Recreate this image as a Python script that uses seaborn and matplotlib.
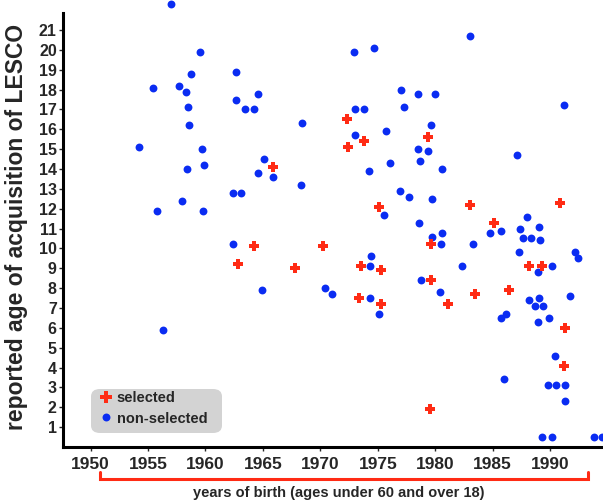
import numpy as np
import pandas as pd
import matplotlib
matplotlib.use("Agg")
import matplotlib.pyplot as plt
from matplotlib.lines import Line2D
from matplotlib.patches import FancyBboxPatch
import seaborn as sns

# values (year of birth, reported age of acquisition)
sel_year = [1965.9, 1972.3, 1973.8, 1972.4, 1979.4, 1975.1, 1983.0, 1985.1, 1990.9,
            1970.2, 1979.6, 1964.2, 1962.8, 1967.8, 1973.5, 1975.3, 1979.6, 1981.1,
            1973.4, 1975.3, 1979.5, 1988.2, 1989.3, 1983.5, 1986.4, 1991.3, 1991.2]
sel_age = [14.1, 16.5, 15.4, 15.1, 15.6, 12.1, 12.2, 11.3, 12.3,
           10.1, 10.2, 10.1, 9.2, 9.0, 9.1, 8.9, 8.4, 7.2,
           7.5, 7.2, 1.9, 9.1, 9.1, 7.7, 7.9, 6.0, 4.1]

non_year = [1957.0, 1959.5, 1958.7, 1955.4, 1957.7, 1958.3, 1958.5, 1958.6, 1954.2, 1958.4,
            1958.0, 1955.8, 1959.7, 1959.9, 1959.8, 1962.7, 1964.6, 1962.7, 1963.4, 1964.2,
            1968.4, 1965.1, 1964.6, 1965.9, 1968.3, 1962.4, 1963.1, 1972.9, 1974.7, 1977.0,
            1978.5, 1980.0, 1973.0, 1973.8, 1977.3, 1979.6, 1973.0, 1975.7, 1978.5, 1979.4,
            1976.1, 1978.7, 1980.6, 1974.2, 1976.9, 1977.7, 1979.7, 1975.5, 1978.6, 1979.7,
            1980.6, 1983.0, 1991.2, 1987.1, 1988.0, 1989.0, 1987.4, 1985.7, 1984.8, 1987.6,
            1988.3, 1989.1, 1992.2, 1992.4, 1974.4, 1980.5, 1983.3, 1987.3, 1962.4, 1964.9,
            1970.4, 1971.0, 1974.3, 1982.3, 1978.8, 1980.4, 1974.3, 1975.1, 1990.2, 1988.9,
            1991.7, 1988.2, 1989.0, 1988.7, 1989.4, 1986.2, 1985.7, 1988.9, 1989.9, 1990.4,
            1986.0, 1989.8, 1990.5, 1991.3, 1991.3, 1989.3, 1990.2, 1993.8, 1994.5, 1956.3]
non_age = [22.3, 19.9, 18.8, 18.1, 18.2, 17.9, 17.1, 16.2, 15.1, 14.0,
           12.4, 11.9, 15.0, 14.2, 11.9, 18.9, 17.8, 17.5, 17.0, 17.0,
           16.3, 14.5, 13.8, 13.6, 13.2, 12.8, 12.8, 19.9, 20.1, 18.0,
           17.8, 17.8, 17.0, 17.0, 17.1, 16.2, 15.7, 15.9, 15.0, 14.9,
           14.3, 14.4, 14.0, 13.9, 12.9, 12.6, 12.5, 11.7, 11.3, 10.6,
           10.8, 20.7, 17.2, 14.7, 11.6, 11.1, 11.0, 10.9, 10.8, 10.5,
           10.5, 10.4, 9.8, 9.5, 9.6, 10.2, 10.2, 9.8, 10.2, 7.9,
           8.0, 7.7, 9.1, 9.1, 8.4, 7.8, 7.5, 6.7, 9.1, 8.8,
           7.6, 7.4, 7.5, 7.1, 7.1, 6.7, 6.5, 6.3, 6.5, 4.6,
           3.4, 3.1, 3.1, 3.1, 2.3, 0.5, 0.5, 0.5, 0.5, 5.9]

x_ticks = list(range(1950, 1991, 5))
y_ticks = list(range(1, 22))

RED = "#ff2b14"
BLUE = "#0a2cf2"

sns.set_theme(style="ticks")
plt.rcParams["font.family"] = ["Liberation Sans", "DejaVu Sans"]

sel_df = pd.DataFrame({"year": sel_year, "age": sel_age})
non_df = pd.DataFrame({"year": non_year, "age": non_age})

fig = plt.figure(figsize=(6.03, 5.01), dpi=100)
ax = fig.add_axes([0.1045, 0.1078, 0.8955, 0.866])

sns.scatterplot(data=non_df, x="year", y="age", color=BLUE, marker="o", s=32,
                linewidth=0, clip_on=False, ax=ax, zorder=3)
sns.scatterplot(data=sel_df, x="year", y="age", color=RED, marker="P", s=60,
                linewidth=0, clip_on=False, ax=ax, zorder=4)

ax.set_xlim(1947.6, 1994.6)
ax.set_ylim(0, 21.85)
ax.set_xticks(x_ticks)
ax.set_yticks(y_ticks)
ax.set_xlabel("")
ax.set_ylabel("")

for s in ["top", "right"]:
    ax.spines[s].set_visible(False)
for s in ["left", "bottom"]:
    ax.spines[s].set_linewidth(2.2)
    ax.spines[s].set_color("black")

ax.tick_params(axis="x", direction="out", length=3, width=1, pad=4, labelsize=12.5)
ax.tick_params(axis="y", direction="out", length=3, width=1, pad=1.5, labelsize=11.5)
for lab in ax.get_xticklabels() + ax.get_yticklabels():
    lab.set_fontweight("bold")

# y title
fig.text(17 / 603, 1 - 227 / 501, "reported age of acquisition of LESCO", rotation=90,
         ha="center", va="center", fontsize=16.5, fontweight="bold")

# red bracket under the x axis
bx0, bx1 = 99.5 / 603, 587.5 / 603
by0, by1 = (501 - 479) / 501, (501 - 472) / 501
fig.add_artist(Line2D([bx0, bx0, bx1, bx1], [by1, by0, by0, by1], color=RED,
                      lw=2.2, transform=fig.transFigure, solid_joinstyle="miter"))
fig.text(338.5 / 603, 1 - 493 / 501, "years of birth (ages under 60 and over 18)",
         ha="center", va="center", fontsize=10.5, fontweight="bold")

# legend box
box = FancyBboxPatch((91 / 603, (501 - 433) / 501), 131 / 603, 44 / 501,
                     boxstyle="round,pad=0,rounding_size=0.015", transform=fig.transFigure,
                     facecolor="#d3d3d3", edgecolor="none", zorder=5, clip_on=False)
ax.add_patch(box)
handles = [Line2D([], [], marker="P", color=RED, linestyle="none", markersize=8, markeredgewidth=0),
           Line2D([], [], marker="o", color=BLUE, linestyle="none", markersize=5.7, markeredgewidth=0)]
leg = ax.legend(handles, ["selected", "non-selected"], loc="upper left",
                bbox_to_anchor=(99 / 603, 1 - 391 / 501), bbox_transform=fig.transFigure,
                frameon=False, borderpad=0, borderaxespad=0, handlelength=0.9,
                handletextpad=0.3, labelspacing=0.45,
                prop={"size": 10.5, "weight": "bold"})
leg.set_zorder(6)

fig.savefig("out.png", dpi=100)
